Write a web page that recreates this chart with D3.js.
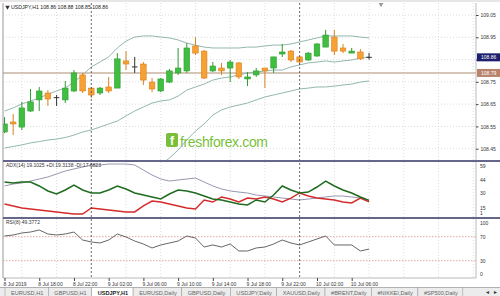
<!DOCTYPE html>
<html>
<head>
<meta charset="utf-8">
<script src="https://cdn.jsdelivr.net/npm/d3@7"></script>
<style>
  html, body { margin: 0; padding: 0; background: #fff; }
  svg { display: block; }
</style>
</head>
<body>
<svg id="chart" width="500" height="296"></svg>
<script>
// USDJPY H1, first bar 8 Jul 2019 14:00
const firstBar = Date.UTC(2019, 6, 8, 14)
const symbolTitle = "USDJPY,H1"

const opens = [108.525,108.570,108.547,108.619,108.669,108.700,108.679,108.669,108.709,108.781,108.722,108.700,108.727,108.722,108.844,108.817,108.830,108.749,108.709,108.749,108.790,108.799,108.911,108.888,108.799,108.812,108.812,108.835,108.763,108.781,108.812,108.812,108.875,108.888,108.862,108.848,108.866,108.906,108.951,108.902,108.879,108.884,108.86]
const highs = [108.592,108.606,108.660,108.718,108.727,108.713,108.691,108.754,108.803,108.790,108.727,108.727,108.772,108.879,108.888,108.862,108.839,108.767,108.767,108.808,108.902,108.924,108.951,108.893,108.839,108.835,108.848,108.839,108.794,108.812,108.812,108.862,108.920,108.893,108.866,108.884,108.924,108.983,108.983,108.920,108.902,108.897,108.88]
const lows = [108.520,108.511,108.534,108.615,108.619,108.642,108.642,108.655,108.704,108.700,108.678,108.691,108.700,108.722,108.803,108.790,108.736,108.704,108.704,108.745,108.781,108.790,108.870,108.763,108.794,108.781,108.749,108.763,108.731,108.772,108.722,108.790,108.862,108.839,108.826,108.844,108.862,108.906,108.870,108.879,108.879,108.848,108.85]
const closes = [108.561,108.561,108.633,108.660,108.709,108.673,108.679,108.722,108.790,108.709,108.691,108.722,108.709,108.853,108.830,108.817,108.758,108.718,108.763,108.799,108.812,108.902,108.879,108.767,108.821,108.799,108.839,108.772,108.772,108.799,108.799,108.862,108.884,108.848,108.839,108.879,108.920,108.960,108.888,108.888,108.888,108.853,108.86]

// bollinger bands
const bbUpper = [108.619,108.633,108.651,108.664,108.677,108.695,108.709,108.722,108.749,108.781,108.817,108.839,108.862,108.902,108.933,108.951,108.956,108.956,108.951,108.947,108.938,108.924,108.915,108.906,108.902,108.902,108.902,108.902,108.906,108.906,108.911,108.915,108.915,108.920,108.929,108.938,108.947,108.956,108.956,108.956,108.956,108.951,108.947]
const bbMiddle = [108.453,108.460,108.467,108.476,108.482,108.489,108.493,108.500,108.511,108.525,108.534,108.547,108.561,108.574,108.597,108.619,108.637,108.655,108.664,108.669,108.686,108.713,108.727,108.740,108.758,108.767,108.772,108.781,108.790,108.794,108.799,108.803,108.803,108.817,108.826,108.835,108.839,108.844,108.839,108.844,108.848,108.857,108.862]
const bbLower = [108.287,108.278,108.283,108.287,108.287,108.283,108.278,108.278,108.274,108.269,108.251,108.256,108.260,108.247,108.260,108.287,108.318,108.354,108.377,108.408,108.444,108.489,108.529,108.561,108.601,108.624,108.637,108.646,108.655,108.669,108.682,108.691,108.700,108.709,108.718,108.722,108.727,108.727,108.731,108.736,108.740,108.749,108.754]

const levelPrice = 108.79
const priceTicks = [108.45, 108.55, 108.65, 108.75, 108.85, 108.95, 109.05]

// ADX(14)
const adxMain = [34.2,36.2,37.3,39.3,41.4,43.5,46.6,49.7,51.8,53.8,55.9,55.9,56.9,56.9,56.9,55.9,50.7,45.5,41.4,39.3,40.4,41.4,42.4,38.3,34.2,31.1,29.0,27.9,26.9,24.8,23.8,22.8,21.7,20.7,19.7,20.7,21.7,22.8,23.8,23.8,22.8,21.7,19.1025]
const plusDI = [38.3,37.3,38.3,38.3,34.2,29.0,25.9,30.0,35.2,30.0,26.9,26.9,30.0,34.2,31.1,26.9,24.8,22.8,20.7,25.9,30.0,29.0,26.9,23.8,20.7,19.7,17.6,15.5,14.5,19.7,17.6,24.8,34.2,30.0,26.9,27.9,33.1,39.3,34.2,30.0,26.9,22.8,19.3138]
const minusDI = [15.5,13.5,11.4,10.4,9.3,8.3,7.3,6.2,5.2,5.2,11.4,10.4,9.3,8.3,7.3,7.3,13.5,18.6,17.6,15.5,13.5,11.4,10.4,19.7,17.6,22.8,20.7,17.6,21.7,20.7,22.8,20.7,17.6,21.7,26.9,23.8,21.7,20.7,19.7,17.6,16.6,21.7,17.6823]
const adxTicks = [59, 44, 30, 15, 1]

// RSI(8)
const rsi = [71.2,72.8,76.2,77.8,81.2,74.5,72.8,74.5,77.8,64.5,61.2,59.5,64.5,74.5,69.5,62.8,57.8,51.2,56.2,59.5,62.8,71.2,67.8,52.8,56.2,52.8,57.8,46.2,46.2,51.2,52.8,57.8,64.5,59.5,56.2,61.2,66.2,71.2,56.2,56.2,56.2,46.2,49.3772]
const rsiTicks = [100, 70, 30, 0]
const rsiLevels = [70, 30]

const tabs = ["EURUSD,H1", "GBPUSD,H1", "USDJPY,H1", "EURUSD,Daily", "GBPUSD,Daily", "USDJPY,Daily", "XAUUSD,Daily", "#BRENT,Daily", "#NIKKEI,Daily", "#SP500,Daily"]
const activeTab = "USDJPY,H1"

// layout
const FONT = "'Liberation Sans', Arial, sans-serif"
const W = 500, H = 296
const plotL = 3, plotR = 476
const mainTop = 3, mainBot = 160
const adxTop = 162, adxBot = 217
const rsiTop = 219, rsiBot = 278

const hour = 3600e3
const barTime = i => new Date(firstBar + i * hour)
const lastTime = barTime(opens.length - 1)
const lastClose = closes[closes.length - 1]

const x = d3.scaleUtc()
  .domain([barTime(0), barTime(54)])
  .range([4.5, 4.5 + 54 * 8.68])
const y = d3.scaleLinear().domain([108.45, 109.05]).range([148.7, 15])
const adxY = d3.scaleLinear().domain([0, 59]).range([219, 162])
const rsiY = d3.scaleLinear().domain([0, 100]).range([278.7, 218.7])

const svg = d3.select("#chart")
  .attr("font-family", FONT)

svg.append("rect").attr("width", W).attr("height", H).attr("fill", "#fff")

const defs = svg.append("defs")
const clip = (id, top, bot) => defs.append("clipPath").attr("id", id)
  .append("rect").attr("x", plotL).attr("y", top).attr("width", plotR - plotL).attr("height", bot - top)
clip("cMain", mainTop, mainBot)
clip("cAdx", adxTop, adxBot)
clip("cRsi", rsiTop, rsiBot)

// grid
const gridTimes = x.ticks(d3.utcHour.every(4))
const separators = d3.utcDay.range(barTime(0), lastTime)
const grid = svg.append("g")
  .attr("stroke", "#d4d4d4")
  .attr("stroke-width", 0.8)
  .attr("stroke-dasharray", "1,2")

grid.selectAll("line.v")
  .data(gridTimes.filter(t => !separators.some(s => +s === +t)))
  .join("line")
  .attr("x1", d => x(d)).attr("x2", d => x(d))
  .attr("y1", mainTop).attr("y2", rsiBot)

grid.selectAll("line.h")
  .data(priceTicks)
  .join("line")
  .attr("x1", plotL).attr("x2", plotR)
  .attr("y1", d => y(d)).attr("y2", d => y(d))

// rsi levels
svg.append("g")
  .attr("stroke", "#d98a8a")
  .attr("stroke-width", 0.8)
  .attr("stroke-dasharray", "1.5,1.5")
  .selectAll("line")
  .data(rsiLevels)
  .join("line")
  .attr("x1", plotL).attr("x2", plotR)
  .attr("y1", d => rsiY(d)).attr("y2", d => rsiY(d))

// horizontal level line
svg.append("line")
  .attr("x1", plotL).attr("x2", plotR)
  .attr("y1", y(levelPrice)).attr("y2", y(levelPrice))
  .attr("stroke", "#c9b3a0")
  .attr("stroke-width", 1.6)

// watermark
const wm = svg.append("g")
wm.append("rect")
  .attr("x", 166).attr("y", 133).attr("width", 12).attr("height", 14).attr("rx", 2)
  .attr("fill", "#79bf3a")
wm.append("text")
  .attr("x", 172).attr("y", 145)
  .attr("text-anchor", "middle")
  .attr("font-size", 12).attr("font-weight", "bold")
  .attr("fill", "#fff")
  .text("f")
wm.append("text")
  .attr("x", 180).attr("y", 146.5)
  .attr("font-size", 14)
  .attr("textLength", 88)
  .attr("fill", "#79bf3a")
  .text("freshforex.com")

// bollinger
const main = svg.append("g").attr("clip-path", "url(#cMain)")
const bbLine = d3.line().x((d, i) => x(barTime(i))).y(d => y(d))
main.selectAll("path.bb")
  .data([bbUpper, bbMiddle, bbLower])
  .join("path")
  .attr("d", bbLine)
  .attr("fill", "none")
  .attr("stroke", "#93b8ad")
  .attr("stroke-width", 1)

// candles
const bars = opens.map((o, i) => ({ t: barTime(i), o, h: highs[i], l: lows[i], c: closes[i] }))
const colorOf = d => d.c > d.o ? "#2f9a32" : d.c < d.o ? "#d98020" : "#333"
const fillOf = d => d.c > d.o ? "#3fbf3f" : "#f7a033"
const bw = 5.6

const candle = main.selectAll("g.candle")
  .data(bars)
  .join("g")

candle.append("line")
  .attr("x1", d => x(d.t)).attr("x2", d => x(d.t))
  .attr("y1", d => y(d.h)).attr("y2", d => y(d.l))
  .attr("stroke", colorOf)
  .attr("stroke-width", 1)

candle.filter(d => d.c !== d.o).append("rect")
  .attr("x", d => x(d.t) - bw / 2)
  .attr("width", bw)
  .attr("y", d => y(Math.max(d.o, d.c)))
  .attr("height", d => Math.max(1, Math.abs(y(d.o) - y(d.c))))
  .attr("fill", fillOf)
  .attr("stroke", colorOf)
  .attr("stroke-width", 0.6)

candle.filter(d => d.c === d.o).append("line")
  .attr("x1", d => x(d.t) - bw / 2).attr("x2", d => x(d.t) + bw / 2)
  .attr("y1", d => y(d.o)).attr("y2", d => y(d.o))
  .attr("stroke", "#333")
  .attr("stroke-width", 1)

// ADX
const adx = svg.append("g").attr("clip-path", "url(#cAdx)")
const adxLine = d3.line().x((d, i) => x(barTime(i))).y(d => adxY(d))
adx.append("path").attr("d", adxLine(adxMain))
  .attr("fill", "none").attr("stroke", "#8c8aa6").attr("stroke-width", 0.9)
adx.append("path").attr("d", adxLine(minusDI))
  .attr("fill", "none").attr("stroke", "#d42a2a").attr("stroke-width", 1.4)
adx.append("path").attr("d", adxLine(plusDI))
  .attr("fill", "none").attr("stroke", "#1f6b1f").attr("stroke-width", 1.5)

// RSI
svg.append("g").attr("clip-path", "url(#cRsi)")
  .append("path")
  .attr("d", d3.line().x((d, i) => x(barTime(i))).y(d => rsiY(d))(rsi))
  .attr("fill", "none").attr("stroke", "#555").attr("stroke-width", 0.9)

// period separators
svg.append("g")
  .selectAll("line")
  .data(separators)
  .join("line")
  .attr("x1", d => x(d)).attr("x2", d => x(d))
  .attr("y1", mainTop).attr("y2", rsiBot)
  .attr("stroke", "#444")
  .attr("stroke-width", 0.8)
  .attr("stroke-dasharray", "2,2")

// borders and panel separators
svg.append("rect").attr("x", 0).attr("y", 0).attr("width", W).attr("height", 2).attr("fill", "#e6e6e6")
svg.append("line")
  .attr("x1", plotL).attr("x2", plotL).attr("y1", mainTop).attr("y2", rsiBot)
  .attr("stroke", "#999").attr("stroke-width", 1)
svg.append("line")
  .attr("x1", plotR).attr("x2", plotR).attr("y1", mainTop).attr("y2", rsiBot)
  .attr("stroke", "#a8a8a8").attr("stroke-width", 0.8)
svg.append("line")
  .attr("x1", plotL).attr("x2", plotR).attr("y1", rsiBot).attr("y2", rsiBot)
  .attr("stroke", "#a8a8a8").attr("stroke-width", 0.8)
svg.selectAll("line.sep")
  .data([mainBot + 1, adxBot + 1])
  .join("line")
  .attr("x1", plotL).attr("x2", W)
  .attr("y1", d => d).attr("y2", d => d)
  .attr("stroke", "#66668a")
  .attr("stroke-width", 2.2)

// chart shift marker
svg.append("path")
  .attr("d", d3.symbol(d3.symbolTriangle, 10)())
  .attr("transform", `translate(381,4.5) rotate(180)`)
  .attr("fill", "#999")

// price axis (labels hidden where a price tag covers them)
const tagPrices = [levelPrice, lastClose]
const pAxis = svg.append("g")
  .attr("transform", `translate(${plotR},0)`)
  .call(d3.axisRight(y).tickValues(priceTicks).tickSize(2.5).tickPadding(2).tickFormat(d3.format(".2f")))
pAxis.select(".domain").remove()
pAxis.selectAll("line").attr("stroke", "#444")
pAxis.selectAll("text").attr("font-size", 5).attr("fill", "#333").attr("font-family", FONT)
pAxis.selectAll(".tick")
  .filter(d => tagPrices.some(p => Math.abs(y(p) - y(d)) < 6.5))
  .select("text").remove()

const priceTag = (value, bg) => {
  const g = svg.append("g").attr("transform", `translate(${plotR + 1},${y(value)})`)
  g.append("rect").attr("x", 0).attr("y", -4).attr("width", W - plotR - 1).attr("height", 8).attr("fill", bg)
  g.append("text").attr("x", 4).attr("dy", "0.35em")
    .attr("font-size", 5).attr("fill", "#fff").text(d3.format(".2f")(value))
}
priceTag(levelPrice, "#b8826c")
priceTag(lastClose, "#1c1f6e")

// indicator scales
const sideLabels = (ticks, scale, top, bot) => svg.append("g")
  .selectAll("text")
  .data(ticks)
  .join("text")
  .attr("x", plotR + 4)
  .attr("y", d => Math.max(top + 4, Math.min(bot - 4, scale(d) + 1)))
  .attr("dy", "0.35em")
  .attr("font-size", 5)
  .attr("fill", "#333")
  .text(d => d)
sideLabels(adxTicks, v => adxY(v) + 2.5, adxTop, adxBot)
sideLabels(rsiTicks, v => rsiY(v) - 0.5, rsiTop, rsiBot)

// time axis
const labelTimes = d3.utcHour.range(barTime(0), d3.utcHour.offset(lastTime, 1), 4)
const fmt = d3.utcFormat("%-d %b %H:%M")
const tAxis = svg.append("g")
  .attr("transform", `translate(0,${rsiBot})`)
  .call(d3.axisBottom(x).tickValues(labelTimes).tickSize(3).tickPadding(1.5)
    .tickFormat((d, i) => i === 0 ? d3.utcFormat("%-d %b %Y")(d) : fmt(d)))
tAxis.select(".domain").remove()
tAxis.selectAll("line").attr("stroke", "#444")
tAxis.selectAll("text")
  .attr("text-anchor", "start")
  .attr("dx", -1.5)
  .attr("font-size", 5).attr("fill", "#333").attr("font-family", FONT)

// headers
svg.append("path")
  .attr("d", d3.symbol(d3.symbolTriangle, 9)())
  .attr("transform", "translate(7.5,7) rotate(180)")
  .attr("fill", "#333")
svg.append("text")
  .attr("x", 11).attr("y", 7).attr("dy", "0.35em")
  .attr("font-size", 5.2).attr("fill", "#222")
  .text(`${symbolTitle} ${[opens, highs, lows, closes].map(a => a[a.length - 1].toFixed(2)).join(" ")}`)
svg.append("text")
  .attr("x", 6).attr("y", adxTop + 3).attr("dy", "0.35em")
  .attr("font-size", 5).attr("fill", "#333")
  .text(`ADX(14) ${adxMain[adxMain.length - 1].toFixed(4)} +DI:${plusDI[plusDI.length - 1].toFixed(4)} -DI:${minusDI[minusDI.length - 1].toFixed(4)}`)
svg.append("text")
  .attr("x", 6).attr("y", rsiTop + 3.5).attr("dy", "0.35em")
  .attr("font-size", 5).attr("fill", "#333")
  .text(`RSI(8) ${rsi[rsi.length - 1].toFixed(4)}`)

// tabs
const tabBar = svg.append("g").attr("transform", "translate(0,287.5)")
tabBar.append("rect").attr("x", 0).attr("y", 0).attr("width", W).attr("height", 9).attr("fill", "#ececec")
tabBar.append("line").attr("x1", 0).attr("x2", W).attr("y1", 0).attr("y2", 0).attr("stroke", "#a0a0a0").attr("stroke-width", 0.8)
let tx = 5
tabs.forEach(name => {
  const g = tabBar.append("g").attr("transform", `translate(${tx},0)`)
  const bg = g.append("rect").attr("y", 0).attr("height", 9)
  const t = g.append("text")
    .attr("x", 6).attr("y", 7.4)
    .attr("font-size", 5.6)
    .attr("font-weight", name === activeTab ? "bold" : "normal")
    .attr("fill", name === activeTab ? "#222" : "#666")
    .text(name)
  const w = t.node().getComputedTextLength() + 11
  bg.attr("width", w)
    .attr("fill", name === activeTab ? "#fff" : "#ececec")
    .attr("stroke", "#a0a0a0").attr("stroke-width", 0.6)
  tx += w
})
tabBar.append("text").attr("x", 485).attr("y", 6.5).attr("font-size", 5).attr("fill", "#333").text("◄")
tabBar.append("text").attr("x", 493).attr("y", 6.5).attr("font-size", 5).attr("fill", "#333").text("►")
</script>
</body>
</html>
